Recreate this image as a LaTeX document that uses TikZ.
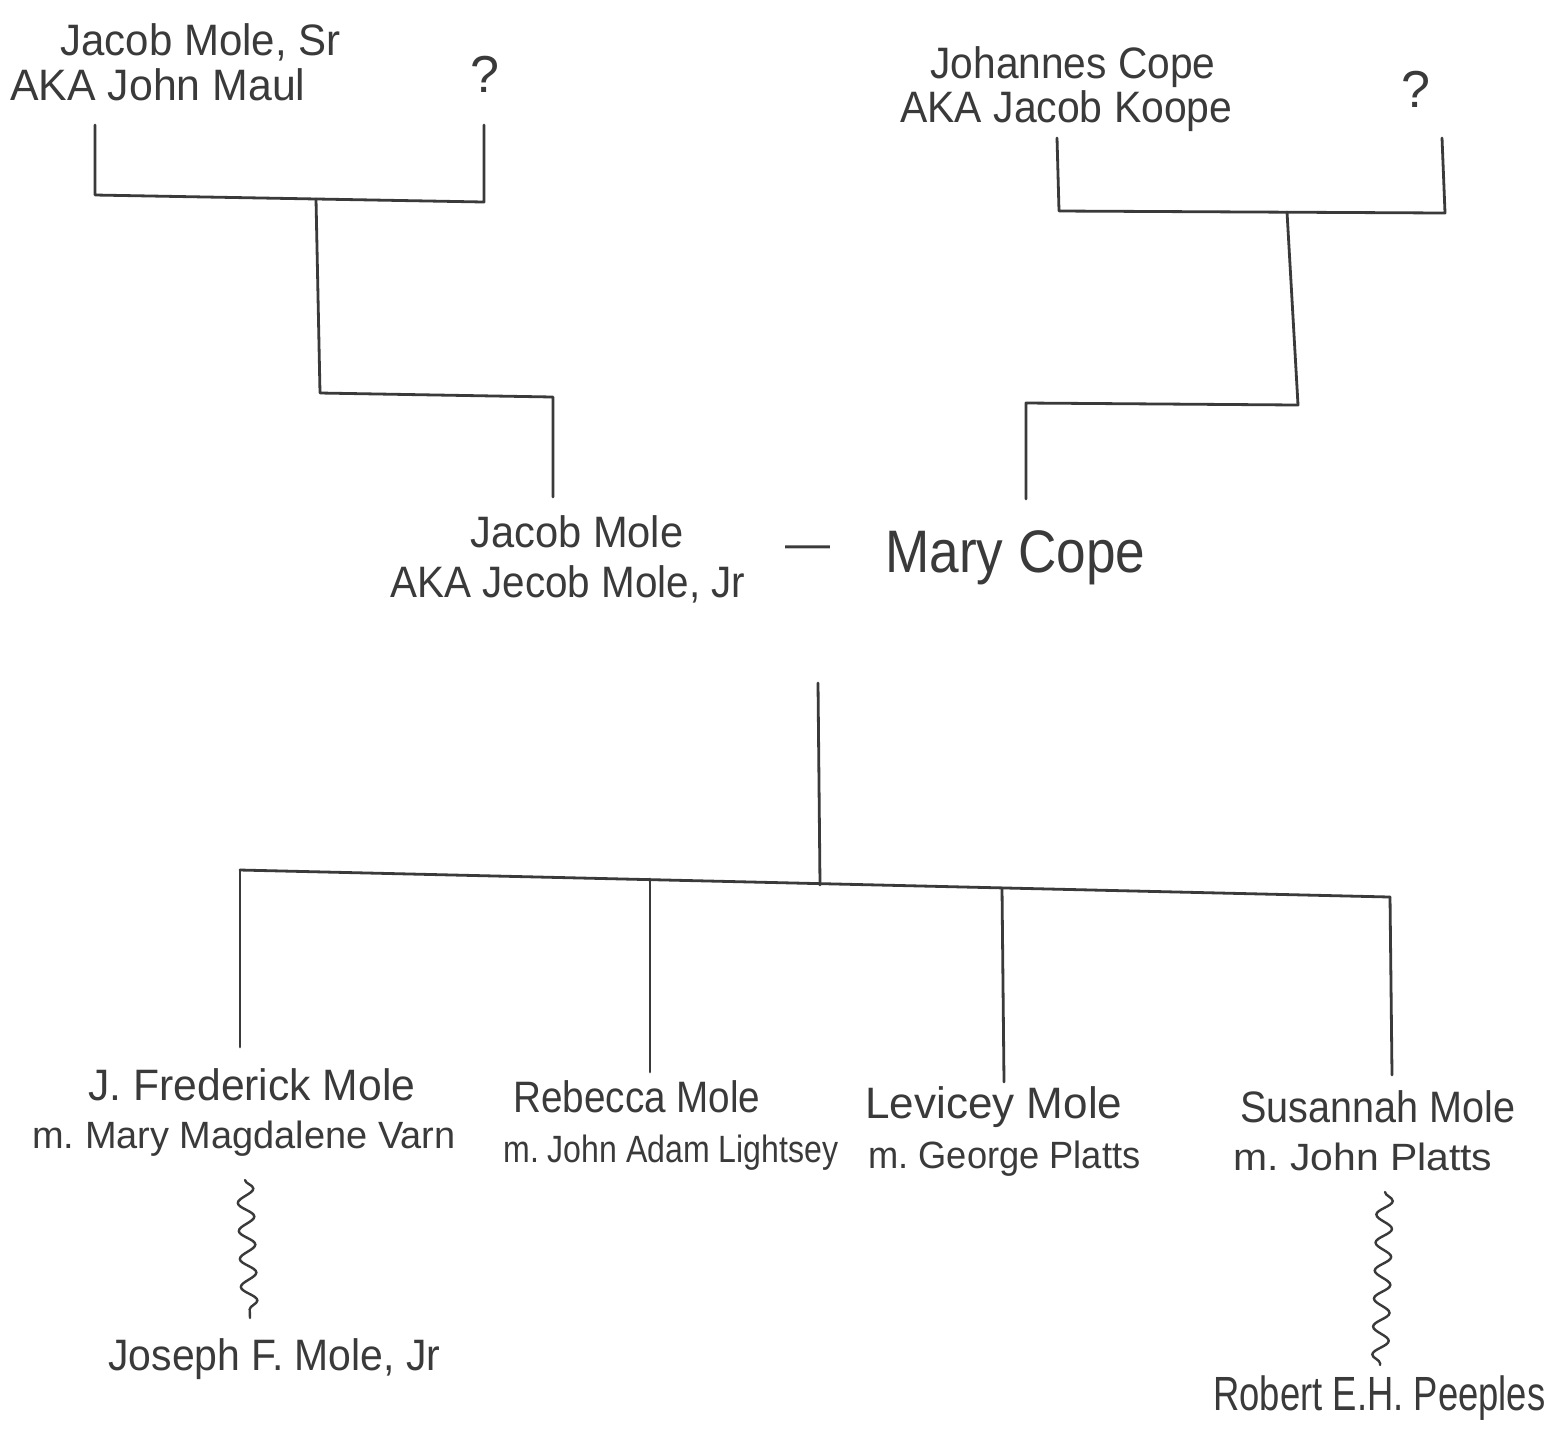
\documentclass[tikz,border=0pt]{standalone}
\usepackage{fontspec}
\setmainfont{Liberation Sans}
\usetikzlibrary{decorations.pathmorphing}
\definecolor{ink}{RGB}{58,58,58}
\newlength\pxu
\setlength\pxu{0.5pt}
\newcommand\hw[2]{\resizebox{#1\pxu}{\height}{#2}}
\tikzset{
  link/.style={draw=ink, line width=1.4pt, line cap=round, line join=round},
  wavy/.style={draw=ink, line width=1.2pt, line cap=round, decorate,
    decoration={snake, segment length=14pt, amplitude=4pt}},
  hand/.style={inner sep=0pt, anchor=base west, text=ink, font=\fontsize{22}{24}\selectfont},
  handsm/.style={hand, font=\fontsize{19}{21}\selectfont},
}
\begin{document}
\begin{tikzpicture}[x=0.5pt, y=-0.5pt]
\useasboundingbox (0,0) rectangle (1561,1432);
\fill[white] (0,0) rectangle (1561,1432);

% top-left couple
\node[hand] (jsr) at (60,55) {\hw{280}{Jacob Mole, Sr}};
\node[hand] (jsr2) at (10,100) {\hw{295}{AKA John Maul}};
\node[hand, font=\fontsize{26}{28}\selectfont] (q1) at (470,92) {?};
% top-right couple
\node[hand] (jc) at (930,78) {\hw{285}{Johannes Cope}};
\node[hand] (jc2) at (900,122) {\hw{332}{AKA Jacob Koope}};
\node[hand, font=\fontsize{26}{28}\selectfont] (q2) at (1401,107) {?};

% middle couple
\node[hand] (jm) at (470,547) {\hw{213}{Jacob Mole}};
\node[hand] (jm2) at (390,597) {\hw{355}{AKA Jecob Mole, Jr}};
\node[hand] (dash) at (785,558) {\hw{45}{—}};
\node[hand, font=\fontsize{30}{32}\selectfont] (mc) at (885,572) {\hw{260}{Mary Cope}};

% children
\node[hand] (c1) at (88,1100) {\hw{327}{J. Frederick Mole}};
\node[handsm] (c1b) at (32,1148) {\hw{423}{m.\ Mary Magdalene Varn}};
\node[hand] (c2) at (513,1112) {\hw{247}{Rebecca Mole}};
\node[handsm] (c2b) at (503,1162) {\hw{335}{m.\ John Adam Lightsey}};
\node[hand] (c3) at (865,1118) {\hw{257}{Levicey Mole}};
\node[handsm] (c3b) at (868,1168) {\hw{272}{m.\ George Platts}};
\node[hand] (c4) at (1240,1122) {\hw{275}{Susannah Mole}};
\node[handsm] (c4b) at (1233,1170) {\hw{259}{m.\ John Platts}};

% grandchildren
\node[hand] (g1) at (108,1370) {\hw{332}{Joseph F. Mole, Jr}};
\node[hand, font=\fontsize{24}{26}\selectfont] (g2) at (1213,1410) {\hw{332}{Robert E.H. Peeples}};

% coordinates of the brackets
\coordinate (aL) at (95,125);
\coordinate (aLb) at (95,195);
\coordinate (aM) at (316,199);
\coordinate (aRb) at (484,202);
\coordinate (aR) at (484,125);
\coordinate (aD) at (320,393);
\coordinate (aE) at (553,397);
\coordinate (aF) at (553,497);

\coordinate (bL) at (1057,138);
\coordinate (bLb) at (1059,211);
\coordinate (bM) at (1287,212);
\coordinate (bRb) at (1445,213);
\coordinate (bR) at (1442,138);
\coordinate (bD) at (1298,405);
\coordinate (bE) at (1026,403);
\coordinate (bF) at (1026,499);

\coordinate (cT) at (818,683);
\coordinate (cM) at (820,885);
\coordinate (h1) at (240,870);
\coordinate (h2) at (650,879);
\coordinate (h3) at (1002,888);
\coordinate (h4) at (1390,897);
\coordinate (d1) at (240,1047);
\coordinate (d2) at (650,1072);
\coordinate (d3) at (1004,1082);
\coordinate (d4) at (1392,1075);

\coordinate (w1a) at (245,1180);
\coordinate (w1b) at (250,1318);
\coordinate (w2a) at (1385,1192);
\coordinate (w2b) at (1380,1365);

% connectors
\draw[link] (aL) -- (aLb) -- (aRb) -- (aR);
\draw[link] (aM) -- (aD) -- (aE) -- (aF);
\draw[link] (bL) -- (bLb) -- (bRb) -- (bR);
\draw[link] (bM) -- (bD) -- (bE) -- (bF);
\draw[link] (cT) -- (cM);
\draw[link] (h1) -- (h4);
\draw[link] (h1) -- (d1);
\draw[link] (h2) -- (d2);
\draw[link] (h3) -- (d3);
\draw[link] (h4) -- (d4);
\draw[wavy] (w1a) -- (w1b);
\draw[wavy] (w2a) -- (w2b);
\end{tikzpicture}
\end{document}
